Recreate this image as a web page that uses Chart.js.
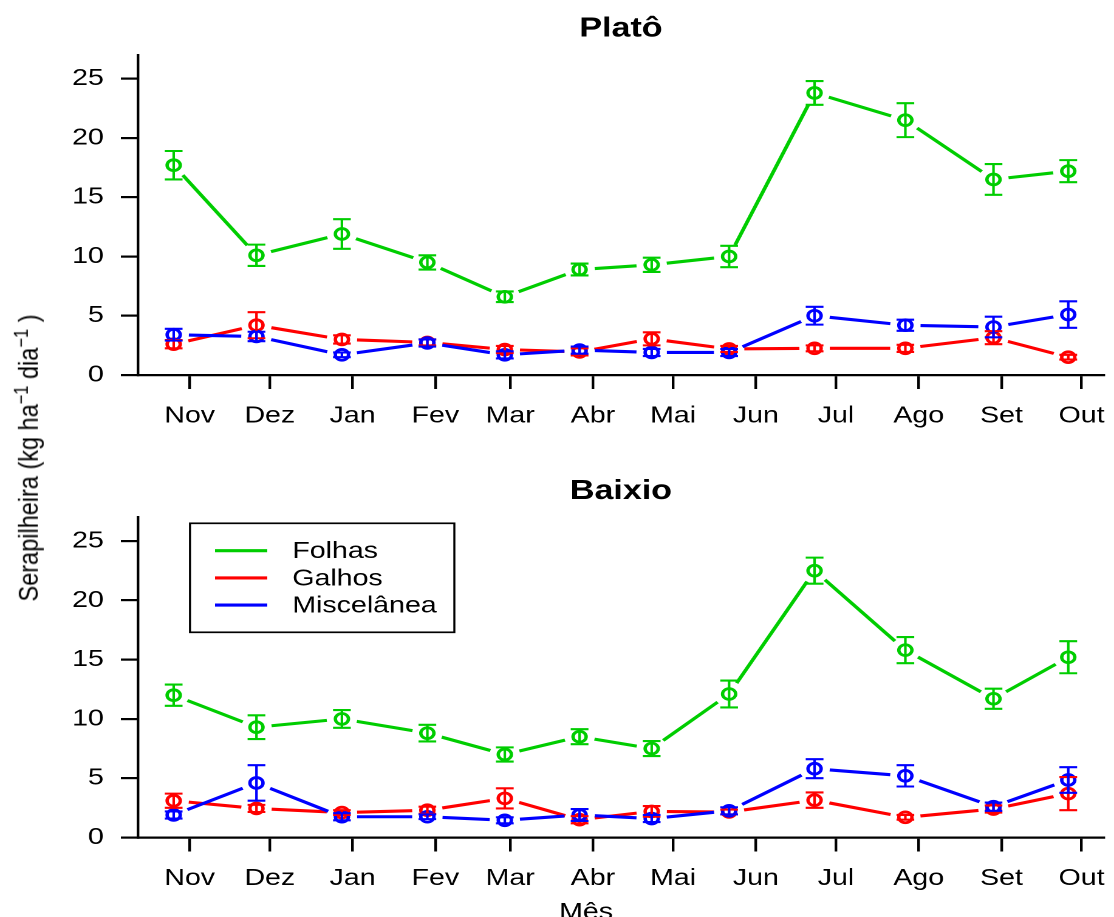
<!DOCTYPE html>
<html lang="pt">
<head>
<meta charset="utf-8">
<title>Serapilheira — Platô e Baixio</title>
<script src="https://cdn.jsdelivr.net/npm/chart.js@4.4.1/dist/chart.umd.min.js"></script>
<style>
  html, body { margin: 0; padding: 0; background: #fff; width: 1114px; height: 917px; overflow: hidden; }
  /* the figure is laid out on a 917 x 917 board and widened to the page width */
  #stage { position: absolute; left: 0; top: 0; width: 917px; height: 917px;
           transform-origin: 0 0; transform: scaleX(1.21483); }
  #stage canvas { position: absolute; left: 0; }
  #cPlato { top: 0; }
  #cBaixio { top: 460px; }
  #ylab { position: absolute; left: 29.6px; top: 458px; transform-origin: 0 0;
          transform: rotate(-90deg) translate(-50%, -19.9px);
          white-space: nowrap; line-height: 1; color: #000;
          font: 23.5px 'Liberation Sans', Arial, Helvetica, sans-serif; }
  #ylab .sup { position: relative; top: -0.5em; font-size: 0.7em; }
</style>
</head>
<body>
<div id="stage">
  <canvas id="cPlato" width="917" height="460"></canvas>
  <canvas id="cBaixio" width="917" height="457"></canvas>
  <div id="ylab">Serapilheira (kg ha<span class="sup">−1</span> dia<span class="sup">−1</span> )</div>
</div>
<script>
// ---- collection calendar (days counted from 1 November) ----
const monthLabels   = ['Nov', 'Dez', 'Jan', 'Fev', 'Mar', 'Abr', 'Mai', 'Jun', 'Jul', 'Ago', 'Set', 'Out'];
const monthStartDay = [0, 30, 61, 92, 120, 151, 181, 212, 242, 273, 304, 334];
const collectionDay = [-6, 25, 57, 89, 118, 146, 173, 202, 234, 268, 301, 329];
const yTickValues   = [0, 5, 10, 15, 20, 25];

// ---- Platô: mean litterfall and standard error ----
const folhasPlato     = [17.7, 10.1, 11.9, 9.5, 6.6, 8.9, 9.3, 10.0, 23.8, 21.5, 16.5, 17.2];
const folhasPlatoSE   = [1.2, 0.9, 1.25, 0.6, 0.45, 0.5, 0.6, 0.9, 1.0, 1.43, 1.3, 0.93];
const galhosPlato     = [2.6, 4.2, 3.0, 2.75, 2.15, 1.95, 3.05, 2.2, 2.25, 2.25, 3.15, 1.5];
const galhosPlatoSE   = [0.35, 1.1, 0.35, 0.25, 0.3, 0.3, 0.55, 0.25, 0.25, 0.3, 0.55, 0.2];
const miscPlato       = [3.4, 3.25, 1.7, 2.7, 1.7, 2.1, 1.9, 1.9, 5.0, 4.2, 4.05, 5.1];
const miscPlatoSE     = [0.5, 0.4, 0.2, 0.3, 0.3, 0.3, 0.3, 0.3, 0.75, 0.47, 0.87, 1.12];

// ---- Baixio: mean litterfall and standard error ----
const folhasBaixio    = [12.0, 9.3, 10.0, 8.8, 7.0, 8.5, 7.5, 12.1, 22.5, 15.8, 11.7, 15.2];
const folhasBaixioSE  = [0.9, 1.0, 0.75, 0.7, 0.6, 0.63, 0.63, 1.13, 1.1, 1.1, 0.85, 1.35];
const galhosBaixio    = [3.1, 2.45, 2.1, 2.3, 3.3, 1.5, 2.2, 2.15, 3.15, 1.7, 2.4, 3.7];
const galhosBaixioSE  = [0.6, 0.3, 0.2, 0.3, 0.85, 0.3, 0.45, 0.2, 0.65, 0.2, 0.3, 1.4];
const miscBaixio      = [1.9, 4.6, 1.75, 1.75, 1.45, 1.9, 1.6, 2.25, 5.8, 5.2, 2.6, 4.85];
const miscBaixioSE    = [0.3, 1.5, 0.3, 0.2, 0.25, 0.5, 0.3, 0.3, 0.8, 0.9, 0.35, 1.08];

const FAMILY = "'Liberation Sans', Arial, Helvetica, sans-serif";
const GREEN = '#00CD00', RED = '#FF0000', BLUE = '#0000FF';
const LINE_GAP = 12.5;   // open space left around each point on the connecting lines
const CAP = 7.3;         // half width of the error-bar caps

Chart.defaults.font.family = FAMILY;
Chart.defaults.font.size = 23.5;
Chart.defaults.color = '#000';

// x range: data range widened by 4% on each side
const dMin = Math.min(...collectionDay), dMax = Math.max(...collectionDay);
const xPad = 0.04 * (dMax - dMin);

// lines stop short of each point: every segment gets its own dash pattern
function gappedSegment(ctx) {
  const len = Math.hypot(ctx.p1.x - ctx.p0.x, ctx.p1.y - ctx.p0.y);
  if (len <= 2 * LINE_GAP) return [0, len + 1];
  return [0, LINE_GAP, len - 2 * LINE_GAP, LINE_GAP + 1];
}

const errorBars = {
  id: 'errorBars',
  afterDatasetsDraw(chart) {
    const { ctx } = chart;
    const y = chart.scales.y;
    chart.data.datasets.forEach((ds, i) => {
      const meta = chart.getDatasetMeta(i);
      ctx.save();
      ctx.strokeStyle = ds.borderColor;
      ctx.lineWidth = 2.1;
      meta.data.forEach((pt, j) => {
        const v = ds.data[j].y, e = ds.errors[j];
        const hi = y.getPixelForValue(v + e), lo = y.getPixelForValue(v - e);
        ctx.beginPath();
        ctx.moveTo(pt.x, lo); ctx.lineTo(pt.x, hi);
        ctx.moveTo(pt.x - CAP, hi); ctx.lineTo(pt.x + CAP, hi);
        ctx.moveTo(pt.x - CAP, lo); ctx.lineTo(pt.x + CAP, lo);
        ctx.stroke();
      });
      ctx.restore();
    });
  }
};

const panelTitle = {
  id: 'panelTitle',
  afterDraw(chart, args, o) {
    const { ctx, chartArea: a } = chart;
    ctx.save();
    ctx.font = 'bold 28px ' + FAMILY;
    ctx.fillStyle = '#000';
    ctx.textAlign = 'center';
    ctx.textBaseline = 'alphabetic';
    ctx.fillText(o.text, (a.left + a.right) / 2, a.top - o.gap);
    if (o.caption) {
      ctx.font = '23.5px ' + FAMILY;
      ctx.fillText(o.caption, o.captionX, o.captionY);
    }
    ctx.restore();
  }
};

const boxLegend = {
  id: 'boxLegend',
  afterDraw(chart, args, o) {
    if (!o.show) return;
    const { ctx } = chart;
    ctx.save();
    ctx.fillStyle = '#fff';
    ctx.fillRect(o.left, o.top, o.width, o.height);
    ctx.strokeStyle = '#000';
    ctx.lineWidth = 1.7;
    ctx.strokeRect(o.left, o.top, o.width, o.height);
    ctx.font = '23.5px ' + FAMILY;
    ctx.textAlign = 'left';
    ctx.textBaseline = 'middle';
    chart.data.datasets.forEach((ds, i) => {
      const yy = o.firstRow + i * o.rowStep;
      ctx.strokeStyle = ds.borderColor;
      ctx.lineWidth = 3.1;
      ctx.beginPath(); ctx.moveTo(o.lineX0, yy); ctx.lineTo(o.lineX1, yy); ctx.stroke();
      ctx.fillStyle = '#000';
      ctx.fillText(ds.label, o.textX, yy + 1);
    });
    ctx.restore();
  }
};

function series(label, values, errors, color, order) {
  return {
    label, order, errors,
    data: collectionDay.map((d, i) => ({ x: d, y: values[i] })),
    borderColor: color,
    borderWidth: 3.1,
    tension: 0,
    fill: false,
    pointStyle: 'circle',
    pointRadius: 5.4,
    pointHoverRadius: 5.4,
    pointBorderWidth: 2.8,
    pointBorderColor: color,
    pointBackgroundColor: 'rgba(0,0,0,0)',
    segment: { borderDash: gappedSegment }
  };
}

const axisLine = { display: true, color: '#000', width: 2.2 };
const tickMarks = { drawOnChartArea: false, drawTicks: true, tickLength: 14, color: '#000', lineWidth: 2.2 };

function buildPanel(canvasId, p) {
  return new Chart(document.getElementById(canvasId), {
    type: 'line',
    data: {
      datasets: [
        series('Folhas', p.folhas, p.folhasSE, GREEN, 3),
        series('Galhos', p.galhos, p.galhosSE, RED, 2),
        series('Miscelânea', p.misc, p.miscSE, BLUE, 1)
      ]
    },
    plugins: [errorBars, panelTitle, boxLegend],
    options: {
      responsive: false,
      animation: false,
      devicePixelRatio: 2,
      events: [],
      layout: { padding: { top: p.areaTop, right: 3.6, left: 0, bottom: 0 } },
      scales: {
        x: {
          type: 'linear',
          min: dMin - xPad,
          max: dMax + xPad,
          afterBuildTicks: s => { s.ticks = monthStartDay.map(v => ({ value: v })); },
          afterFit: s => { s.height = p.xAxisHeight; s.paddingLeft = 0; s.paddingRight = 0; },
          ticks: {
            autoSkip: false, maxRotation: 0, minRotation: 0, padding: 13,
            callback: v => monthLabels[monthStartDay.indexOf(v)]
          },
          grid: tickMarks,
          border: axisLine
        },
        y: {
          type: 'linear',
          min: 0,
          max: 27,
          afterBuildTicks: s => { s.ticks = yTickValues.map(v => ({ value: v })); },
          afterFit: s => { s.width = 113.5; s.paddingTop = 0; s.paddingBottom = 0; },
          ticks: { padding: 14 },
          grid: tickMarks,
          border: axisLine
        }
      },
      plugins: {
        legend: { display: false },
        title: { display: false },
        tooltip: { enabled: false },
        panelTitle: { text: p.title, gap: 18.5, caption: p.caption, captionX: 482.4, captionY: 459 },
        boxLegend: p.legend
      }
    }
  });
}

buildPanel('cPlato', {
  title: 'Platô',
  areaTop: 55, xAxisHeight: 85,
  folhas: folhasPlato, folhasSE: folhasPlatoSE,
  galhos: galhosPlato, galhosSE: galhosPlatoSE,
  misc: miscPlato, miscSE: miscPlatoSE,
  legend: { show: false }
});

buildPanel('cBaixio', {
  title: 'Baixio',
  caption: 'Mês',
  areaTop: 57.3, xAxisHeight: 79.5,
  folhas: folhasBaixio, folhasSE: folhasBaixioSE,
  galhos: galhosBaixio, galhosSE: galhosBaixioSE,
  misc: miscBaixio, miscSE: miscBaixioSE,
  legend: {
    show: true, left: 156.4, top: 63.3, width: 217.6, height: 109,
    firstRow: 90.7, rowStep: 27.2, lineX0: 177, lineX1: 220, textX: 240.6
  }
});
</script>
</body>
</html>
